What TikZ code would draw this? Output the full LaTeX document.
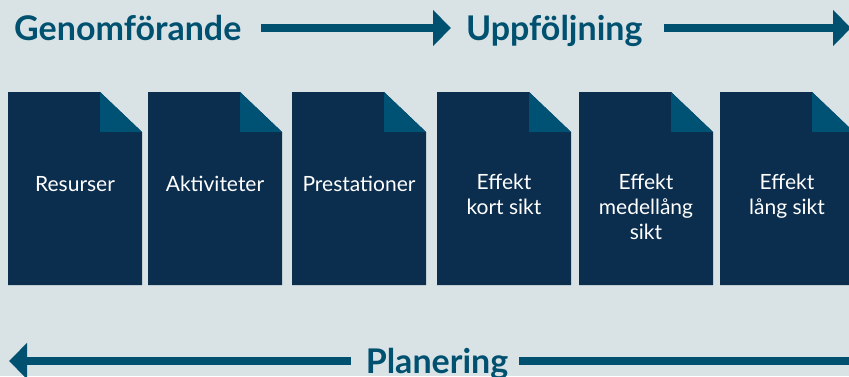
\documentclass[tikz,border=0pt]{standalone}
\usepackage{fontspec}
\setmainfont{Lato}
\usetikzlibrary{arrows.meta,positioning}
\definecolor{bg}{HTML}{D9E3E6}
\definecolor{navy}{HTML}{0B2D4E}
\definecolor{foldblue}{HTML}{005274}
\definecolor{petrol}{HTML}{00506F}
\tikzset{
  phase/.style={text=petrol, font=\bfseries\fontsize{34}{36}\selectfont, inner sep=0pt},
  flow/.style={draw=petrol, line width=8pt, -{Triangle[length=18pt,width=35pt]}},
  flowline/.style={draw=petrol, line width=8pt},
  cardtext/.style={text=white, align=center, font=\fontsize{21}{25}\selectfont,
    anchor=north, inner sep=0pt, execute at begin node=\strut},
}

\begin{document}
\begin{tikzpicture}[x=1pt,y=-1pt]
\fill[bg] (0,0) rectangle (849,376);
\useasboundingbox (0,0) rectangle (849,376);

% phases
\node[phase, anchor=base west] (genom) at (14,40) {Genomförande};
\node[phase, anchor=base west] (uppf) at (466,40) {Uppföljning};
\node[phase, anchor=base] (plan) at (437,373) {Planering};
\coordinate (topend) at (851,28);
\coordinate (leftend) at (9,361);
\coordinate (rightend) at (849,361);

\draw[flow] ([xshift=19pt,yshift=12pt]genom.base east) -- ([xshift=-15pt,yshift=12pt]uppf.base west);
\draw[flow] ([xshift=21pt,yshift=12pt]uppf.base east) -- (topend);
\draw[flow] ([xshift=-15pt,yshift=12pt]plan.base west) -- (leftend);
\draw[flowline] ([xshift=11pt,yshift=12pt]plan.base east) -- (rightend);

% cards
\foreach \x/\n/\t in {8/res/Resurser, 148/akt/Aktiviteter, 292/pres/Prestationer,
    437/kort/{Effekt\\kort sikt}, 579/medel/{Effekt\\medellång\\sikt}, 720/lang/{Effekt\\lång sikt}}{
  \fill[navy] (\x,92) -- ++(92,0) -- ++(42,40) -- (\x+134,285) -- (\x,285) -- cycle;
  \fill[foldblue] (\x+92,92) -- (\x+92,132) -- (\x+134,132) -- cycle;
  \node[cardtext] (\n) at (\x+67,173.5) {\t};
}
\end{tikzpicture}
\end{document}
